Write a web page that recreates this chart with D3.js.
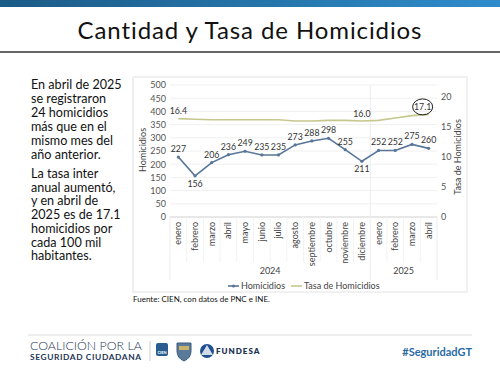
<!DOCTYPE html>
<html>
<head>
<meta charset="utf-8">
<script src="https://cdn.jsdelivr.net/npm/d3@7"></script>
<style>
  body { margin: 0; background: #fff; }
  svg { display: block; }
</style>
</head>
<body>
<svg id="chart" width="500" height="375"></svg>
<script>
const months = ['enero', 'febrero', 'marzo', 'abril', 'mayo', 'junio', 'julio', 'agosto',
  'septiembre', 'octubre', 'noviembre', 'diciembre', 'enero', 'febrero', 'marzo', 'abril']
const years = ['2024', '2025']
const yearCounts = [12, 4]
const homicidios = [227, 156, 206, 236, 249, 235, 235, 273, 288, 298, 255, 211, 252, 252, 275, 260]
const tasa = [16.4, 16.3, 16.2, 16.2, 16.2, 16.2, 16.2, 16.0, 16.0, 16.1, 16.1, 16.0, 16.1, 16.5, 16.9, 17.1]
const tasaLabelIdx = [0, 11, 15]
const leftTicks = [0, 50, 100, 150, 200, 250, 300, 350, 400, 450, 500]
const rightTicks = [0, 5, 10, 15, 20]
const belowLabels = [1, 11]

const svg = d3.select('#chart')
const font = 'Lato, "Open Sans", sans-serif'

// top banner
const grad = svg.append('defs').append('linearGradient').attr('id', 'topbar')
grad.append('stop').attr('offset', '0%').attr('stop-color', '#1b5b86')
grad.append('stop').attr('offset', '100%').attr('stop-color', '#2f8ccb')
svg.append('rect').attr('x', 0).attr('y', 0).attr('width', 500).attr('height', 7).attr('fill', 'url(#topbar)')

svg.append('text')
  .attr('x', 250).attr('y', 39)
  .attr('text-anchor', 'middle')
  .style('font-family', font)
  .style('font-size', '24px')
  .style('letter-spacing', '0.9px')
  .attr('fill', '#111')
  .text('Cantidad y Tasa de Homicidios')
svg.append('line').attr('x1', 0).attr('x2', 500).attr('y1', 52).attr('y2', 52)
  .attr('stroke', '#333').attr('stroke-width', 1.5)

// left commentary
const para1 = ['En abril de 2025', 'se registraron', '24 homicidios', 'más que en el', 'mismo mes del', 'año anterior.']
const para2 = ['La tasa inter', 'anual aumentó,', 'y en abril de', '2025 es de 17.1', 'homicidios por', 'cada 100 mil', 'habitantes.']
const textG = svg.append('g').style('font-family', font).style('font-size', '12.6px').attr('fill', '#111')
para1.forEach((t, i) => textG.append('text').attr('x', 31).attr('y', 89 + i * 14).text(t))
para2.forEach((t, i) => textG.append('text').attr('x', 31).attr('y', 178 + i * 13.7).text(t))

// chart frame
svg.append('rect').attr('x', 133).attr('y', 77).attr('width', 334).attr('height', 215)
  .attr('fill', '#fff').attr('stroke', '#e2e2e2')

const x = d3.scaleBand().domain(d3.range(months.length)).range([170, 437])
const yL = d3.scaleLinear().domain([0, 500]).range([217, 85])
const yR = d3.scaleLinear().domain([0, 20]).range([217, 97])

const g = svg.append('g').style('font-family', font)

// gridlines
g.append('g').selectAll('line').data(leftTicks).join('line')
  .attr('x1', 170).attr('x2', 437)
  .attr('y1', d => yL(d)).attr('y2', d => yL(d))
  .attr('stroke', d => d === 0 ? '#d0d0d0' : '#f0f0f0')

// left axis
const axL = g.append('g').attr('transform', 'translate(166,0)')
  .call(d3.axisLeft(yL).tickValues(leftTicks).tickSize(0).tickPadding(0))
axL.select('.domain').remove()
axL.selectAll('text').style('font-size', '9px').attr('fill', '#555').style('font-family', font)

// right axis
const axR = g.append('g').attr('transform', 'translate(441,0)')
  .call(d3.axisRight(yR).tickValues(rightTicks).tickSize(0).tickPadding(0))
axR.select('.domain').remove()
axR.selectAll('text').style('font-size', '9px').attr('fill', '#555').style('font-family', font)

// axis titles
g.append('text').attr('transform', 'translate(146,150) rotate(-90)')
  .attr('text-anchor', 'middle').style('font-size', '9px').attr('fill', '#444').text('Homicidios')
g.append('text').attr('transform', 'translate(461,157) rotate(-90)')
  .attr('text-anchor', 'middle').style('font-size', '9px').attr('fill', '#444').text('Tasa de Homicidios')

// category ticks and year separators
const bounds = [0, yearCounts[0], months.length]
g.append('g').selectAll('line').data(bounds).join('line')
  .attr('x1', d => 170 + d * x.step()).attr('x2', d => 170 + d * x.step())
  .attr('y1', d => d === yearCounts[0] ? 85 : 217).attr('y2', 280)
  .attr('stroke', '#ececec')
g.append('g').selectAll('line').data(d3.range(1, months.length)).join('line')
  .attr('x1', d => 170 + d * x.step()).attr('x2', d => 170 + d * x.step())
  .attr('y1', 217).attr('y2', 262)
  .attr('stroke', '#f3f3f3')

// month labels
g.append('g').selectAll('text').data(months).join('text')
  .attr('transform', (d, i) => `translate(${x(i) + x.bandwidth() / 2 + 3},222) rotate(-90)`)
  .attr('text-anchor', 'end')
  .style('font-size', '9px').attr('fill', '#444')
  .text(d => d)

// year labels
let start = 0
years.forEach((yr, i) => {
  const cx = 170 + (start + yearCounts[i] / 2) * x.step()
  g.append('text').attr('x', cx).attr('y', 274).attr('text-anchor', 'middle')
    .style('font-size', '9px').attr('fill', '#444').text(yr)
  start += yearCounts[i]
})

const cx = i => x(i) + x.bandwidth() / 2

// tasa line
g.append('path').datum(tasa)
  .attr('d', d3.line().x((d, i) => cx(i)).y(d => yR(d)))
  .attr('fill', 'none').attr('stroke', '#c6c78e').attr('stroke-width', 1.6)

// homicidios line
g.append('path').datum(homicidios)
  .attr('d', d3.line().x((d, i) => cx(i)).y(d => yL(d)))
  .attr('fill', 'none').attr('stroke', '#587699').attr('stroke-width', 1.6)
g.append('g').selectAll('circle').data(homicidios).join('circle')
  .attr('cx', (d, i) => cx(i)).attr('cy', d => yL(d)).attr('r', 1.6)
  .attr('fill', '#587699')

// homicidios labels
g.append('g').selectAll('text').data(homicidios).join('text')
  .attr('x', (d, i) => cx(i))
  .attr('y', (d, i) => belowLabels.includes(i) ? yL(d) + 11 : yL(d) - 5)
  .attr('text-anchor', 'middle')
  .style('font-size', '8.8px').attr('fill', '#333')
  .text(d => d)

// tasa labels
const last = tasa.length - 1
tasaLabelIdx.forEach(i => {
  g.append('text').attr('x', cx(i) + (i === last ? -6 : 0)).attr('y', yR(tasa[i]) - 4.5)
    .attr('text-anchor', 'middle')
    .style('font-size', '8.8px').attr('fill', '#333')
    .text(d3.format('.1f')(tasa[i]))
})
g.append('ellipse').attr('cx', cx(last) - 6).attr('cy', yR(tasa[last]) - 7.5)
  .attr('rx', 10).attr('ry', 8)
  .attr('fill', 'none').attr('stroke', '#222').attr('stroke-width', 1)

// legend
const lg = g.append('g').attr('transform', 'translate(0,286)')
lg.append('line').attr('x1', 228).attr('x2', 239).attr('y1', 0).attr('y2', 0)
  .attr('stroke', '#587699').attr('stroke-width', 1.6)
lg.append('circle').attr('cx', 233.5).attr('cy', 0).attr('r', 1.6).attr('fill', '#587699')
lg.append('text').attr('x', 241).attr('y', 3).style('font-size', '9px').attr('fill', '#444').text('Homicidios')
lg.append('line').attr('x1', 291).attr('x2', 302).attr('y1', 0).attr('y2', 0)
  .attr('stroke', '#c6c78e').attr('stroke-width', 1.6)
lg.append('text').attr('x', 304).attr('y', 3).style('font-size', '9px').attr('fill', '#444').text('Tasa de Homicidios')

svg.append('text').attr('x', 133).attr('y', 302)
  .style('font-family', font).style('font-size', '8px').attr('fill', '#111')
  .text('Fuente: CIEN, con datos de PNC e INE.')

// footer
svg.append('line').attr('x1', 28).attr('x2', 472).attr('y1', 335).attr('y2', 335)
  .attr('stroke', '#dcdcdc').attr('stroke-width', 1)
const fg = svg.append('g').style('font-family', font)
fg.append('text').attr('x', 30).attr('y', 350).style('font-size', '12.4px').style('font-weight', 300)
  .attr('fill', '#1e3656').text('COALICIÓN POR LA')
fg.append('text').attr('x', 30).attr('y', 360).style('font-size', '8.4px').style('font-weight', 700)
  .attr('fill', '#1e3656').style('letter-spacing', '0.6px').text('SEGURIDAD CIUDADANA')
fg.append('line').attr('x1', 150).attr('x2', 150).attr('y1', 341).attr('y2', 361).attr('stroke', '#ccc')
fg.append('rect').attr('x', 156).attr('y', 343).attr('width', 12).attr('height', 13).attr('rx', 2).attr('fill', '#2a5d8f')
fg.append('text').attr('x', 162).attr('y', 354).attr('text-anchor', 'middle').style('font-size', '4px')
  .attr('fill', '#fff').style('font-weight', 700).text('CIEN')
fg.append('path').attr('d', 'M177,343 L191,343 L191,351 Q191,358 184,361 Q177,358 177,351 Z')
  .attr('fill', '#5a7a9c').attr('stroke', '#3c5a7a')
fg.append('path').attr('d', 'M179,346 L189,346 L189,350 L179,350 Z').attr('fill', '#c9b36a')
fg.append('circle').attr('cx', 207).attr('cy', 351).attr('r', 7).attr('fill', '#1f4f8f')
fg.append('path').attr('d', 'M201,355 L207,345 L213,355 Z').attr('fill', '#fff').attr('opacity', 0.8)
fg.append('text').attr('x', 216).attr('y', 354).style('font-size', '8px').style('font-weight', 800)
  .attr('fill', '#1e3656').style('letter-spacing', '1px').text('FUNDESA')
fg.append('text').attr('x', 472).attr('y', 356).attr('text-anchor', 'end')
  .style('font-size', '11px').style('font-weight', 700).attr('fill', '#2a6aa3').text('#SeguridadGT')
</script>
</body>
</html>
